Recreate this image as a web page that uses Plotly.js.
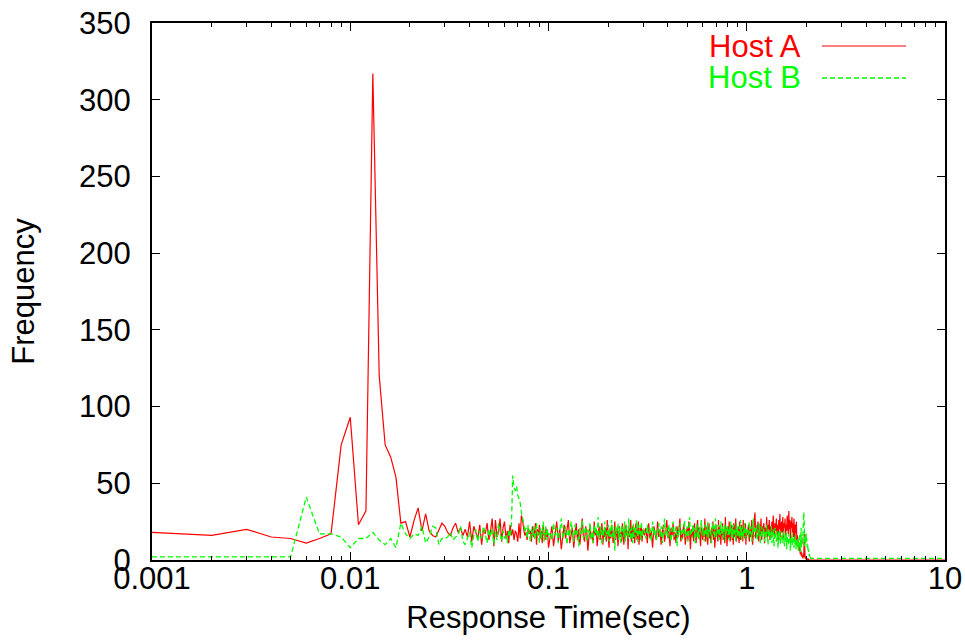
<!DOCTYPE html>
<html><head><meta charset="utf-8">
<script src="https://cdn.plot.ly/plotly-3.0.1.min.js"></script>
<style>html,body{margin:0;padding:0;background:#fff}#chart{width:965px;height:641px}</style>
</head><body><div id="chart"></div>
<script>
// ---- bin centres (milliseconds) ----
const binMs1 = [1,2,3,4,5,6,7,8,9,10,11,12,13,14,15,16,17,18,19,20,21,22,23,24,25,26,27,28,29,30,31,32,33,34,35,36,37,38,39,40,41,42,43,44,45,46,47,48,49,50,51,52,53,54,55,56,57,58,59,60,61,62,63,64,65,66,67,68,69,70,71,72,73,74,75,76,77,78,79,80,81,82,83,84,85,86,87,88,89,90,91,92,93,94,95,96,97,98,99,100];
const binMs2 = [102,104,106,108,110,112,114,116,118,120,122,124,126,128,130,132,134,136,138,140,142,144,146,148,150,152,154,156,158,160,162,164,166,168,170,172,174,176,178,180,182,184,186,188,190,192,194,196,198,200,202,204,206,208,210,212,214,216,218,220,222,224,226,228,230,232,234,236,238,240,242,244,246,248,250,252,254,256,258,260,262,264,266,268,270,272,274,276,278,280,282,284,286,288,290,292,294,296,298,300];
const binMs3 = [305,310,315,320,325,330,335,340,345,350,355,360,365,370,375,380,385,390,395,400,405,410,415,420,425,430,435,440,445,450,455,460,465,470,475,480,485,490,495,500,505,510,515,520,525,530,535,540,545,550,555,560,565,570,575,580,585,590,595,600,605,610,615,620,625,630,635,640,645,650,655,660,665,670,675,680,685,690,695,700,705,710,715,720,725,730,735,740,745,750,755,760,765,770,775,780,785,790,795,800,805,810,815,820,825,830,835,840,845,850,855,860,865,870,875,880,885,890,895,900,905,910,915,920,925,930,935,940,945,950,955,960,965,970,975,980,985,990,995,1000];
const binMs4 = [1010,1020,1030,1040,1050,1060,1070,1080,1090,1100,1110,1120,1130,1140,1150,1160,1170,1180,1190,1200,1210,1220,1230,1240,1250,1260,1270,1280,1290,1300,1310,1320,1330,1340,1350,1360,1370,1380,1390,1400,1410,1420,1430,1440,1450,1460,1470,1480,1490,1500,1510,1520,1530,1540,1550,1560,1570,1580,1590,1600,1610,1620,1630,1640,1650,1660,1670,1680,1690,1700,1710,1720,1730,1740,1750,1760,1770,1780,1790,1800,1810,1820,1830,1840,1850,1860,1870,1880,1890,1900,1910,1920,1930,1940,1950,1960,1970,1980,1990,2000,2010,2020,2030,2040,2050,2060,2070,2080,2090,2100];
const binMs5 = [2150,2200,2300,2500,3000,4000,5000,6000,7000,8000,9000,10000];

// ---- Host A frequencies ----
const hostA1 = [18,16,20,15,14,11,14,17,75,93, 23,32,317,120,75,67,54,24,25,15, 26,34,19,30,19,16,15,20,24,22, 18,16,21,24,18,21,16,20,15,25, 12,22,18,14,23,10,20,17,24,13, 19,27,9,26,15,18,27,12,21,25, 14,19,11,23,16,20,13,19,17,12, 24,14,29,26,20,16,18,13,21,17, 19,12,22,15,18,24,10,20,16,23, 14,19,11,22,17,13,21,15,18,8];
const hostA2 = [15,22,9,18,25,12,20,7,17,23, 14,19,26,11,16,21,8,18,24,13, 20,10,17,27,15,12,22,18,6,19, 23,14,17,11,25,16,20,9,18,22, 13,17,24,10,19,15,21,12,26,16, 8,20,14,23,18,11,17,25,13,19, 21,9,16,22,15,18,12,24,17,10, 20,14,23,16,19,7,21,15,18,26, 12,17,22,14,20,11,18,24,16,13, 19,25,10,17,21,15,23,12,18,20];
const hostA3 = [16,21,11,24,14,19,8,22,17,13, 25,15,20,10,18,23,12,17,26,14, 19,9,21,16,24,13,18,11,22,15, 20,27,12,17,14,23,19,10,16,21, 13,25,18,7,20,15,22,12,24,17, 11,19,26,14,21,16,9,23,18,13, 20,15,27,12,17,22,10,19,24,14, 18,11,21,16,25,13,20,8,17,23, 15,19,12,26,18,14,22,10,20,16, 24,13,19,17,11,28,15,21,9,18, 22,14,25,16,12,20,17,23,13,19, 10,24,18,15,21,27,12,17,20,14, 22,16,11,25,19,13,18,23,15,20, 12,26,17,21,14,19,24,10,18,16];
const hostA4 = [17,23,12,20,15,26,10,19,22,31, 14,21,18,25,12,20,16,27,13,22, 19,24,11,21,17,28,15,23,20,26, 13,22,18,25,16,29,21,14,24,19, 27,17,23,12,26,20,30,15,22,25, 18,28,14,24,21,27,16,23,19,29, 22,17,32,20,26,14,25,21,28,18, 24,15,27,20,12,23,18,25,10,16, 14,8,12,6,10,4,7,3,5,2, 3,1,4,2,17,3,1,2,1,0, 1,0,0,1,0,0,0,0,0,0];
const hostA5 = [0,0,0,0,0,0,0,0,0,0,0,0];

// ---- Host B frequencies ----
const hostB1 = [2,2,2,2,2,41,17,17,15,8, 14,14,18,13,10,14,8,24,17,14, 17,16,22,11,15,22,21,10,14,14, 15,18,13,15,16,22,12,10,14,18, 8,16,20,12,19,14,22,17,11,20, 15,21,10,18,13,24,16,12,19,14, 17,11,20,15,22,55,47,45,48,42, 40,37,31,28,24,18,21,14,23,17, 12,20,16,22,13,19,24,15,18,11, 21,14,19,25,12,17,22,13,20,16];
const hostB2 = [18,13,24,16,21,11,19,27,14,17, 22,10,20,15,25,18,12,23,16,19, 9,21,17,26,14,18,22,12,20,16, 24,13,19,11,23,17,21,15,28,14, 18,22,10,20,16,25,13,19,17,23, 12,21,15,26,18,14,20,6,22,17, 19,24,13,21,16,11,23,18,20,15, 25,12,19,22,17,14,27,16,20,13, 21,18,11,24,15,22,19,14,26,17, 12,20,23,16,19,13,25,18,15,21];
const hostB3 = [19,14,23,17,21,12,25,16,20,13, 18,24,15,22,11,19,27,16,21,14, 23,17,12,20,25,15,18,22,9,19, 16,24,20,13,21,18,26,15,17,22, 12,20,28,16,19,14,23,18,21,11, 17,24,15,20,13,22,19,26,16,18, 21,12,23,17,20,15,25,14,19,22, 16,18,11,24,20,17,22,14,27,19, 15,21,18,23,13,20,16,25,19,17, 22,14,20,18,24,12,21,17,19,23, 16,20,13,22,18,25,15,19,21,14, 23,17,20,16,19,12,24,18,21,15, 20,17,22,14,19,26,16,21,13,18, 22,15,20,17,24,14,19,21,16,18];
const hostB4 = [20,14,25,17,22,12,19,27,15,21, 18,23,13,20,16,24,11,19,22,15, 17,21,12,19,14,23,16,10,20,15, 18,13,22,11,17,20,9,16,21,14, 12,19,15,8,18,13,20,10,16,14, 17,11,15,19,9,14,12,18,7,16, 13,10,17,12,15,6,14,11,18,9, 15,12,8,14,10,16,7,13,11,9, 14,6,12,9,17,5,11,21,8,15, 10,19,13,31,24,9,16,11,18,12, 14,8,10,5,7,3,4,2,3,1];
const hostB5 = [1,1,1,1,1,1,1,1,1,1,1,1];

// ---- axis ticks ----
const xTickVals = [0.001, 0.01, 0.1, 1, 10];
const xTickText = ['0.001', '0.01', '0.1', '1', '10'];
const xMinorVals = [0.002,0.003,0.004,0.005,0.006,0.007,0.008,0.009,0.02,0.03,0.04,0.05,0.06,0.07,0.08,0.09,0.2,0.3,0.4,0.5,0.6,0.7,0.8,0.9,2,3,4,5,6,7,8,9];
const yTickVals = [0, 50, 100, 150, 200, 250, 300, 350];
const seriesNames = ['Host A', 'Host B'];

const binSec = binMs1.concat(binMs2, binMs3, binMs4, binMs5).map(v => v / 1000);
const freqA = hostA1.concat(hostA2, hostA3, hostA4, hostA5);
const freqB = hostB1.concat(hostB2, hostB3, hostB4, hostB5);

const traces = [
  {x: binSec, y: freqA, name: seriesNames[0], type: 'scatter', mode: 'lines',
   line: {color: '#ff0000', width: 1.2}},
  {x: binSec, y: freqB, name: seriesNames[1], type: 'scatter', mode: 'lines',
   line: {color: '#00ff00', width: 1.3, dash: '5px,3px'}}
];

const L = 152, T = 23, W = 793, H = 537;
const px = x => (x - L) / W;
const py = y => (T + H - y) / H;

const layout = {
  width: 965, height: 641,
  margin: {l: L, r: 965 - L - W, t: T, b: 641 - T - H, pad: 0},
  paper_bgcolor: '#ffffff', plot_bgcolor: '#ffffff',
  showlegend: false, hovermode: false,
  font: {family: '"Liberation Sans", Arial, sans-serif', size: 31, color: '#000'},
  xaxis: {
    type: 'log', range: [-3, 1],
    tickmode: 'array', tickvals: xTickVals, ticktext: xTickText,
    ticks: 'inside', ticklen: 8, tickwidth: 1, tickcolor: '#000',
    minor: {tickmode: 'array', tickvals: xMinorVals, ticks: 'inside', ticklen: 4, tickwidth: 1, tickcolor: '#000', showgrid: false},
    showline: true, linecolor: '#000', linewidth: 2, mirror: 'allticks',
    showgrid: false, zeroline: false, ticklabelstandoff: -10,
    tickfont: {size: 31},
    title: {text: 'Response Time(sec)', standoff: 11, font: {size: 31}}
  },
  yaxis: {
    range: [0, 350], tickmode: 'array', tickvals: yTickVals,
    ticks: 'inside', ticklen: 8, tickwidth: 1, tickcolor: '#000',
    showline: true, linecolor: '#000', linewidth: 2, mirror: 'allticks',
    showgrid: false, zeroline: false, ticklabelstandoff: 13,
    tickfont: {size: 31},
    title: {text: 'Frequency', standoff: 35, font: {size: 31}}
  },
  annotations: [
    {text: seriesNames[0], xref: 'paper', yref: 'paper', x: px(802), y: py(46), xanchor: 'right', yanchor: 'middle', showarrow: false, borderpad: 0, font: {color: '#ff0000', size: 31}},
    {text: seriesNames[1], xref: 'paper', yref: 'paper', x: px(802), y: py(78), xanchor: 'right', yanchor: 'middle', showarrow: false, borderpad: 0, font: {color: '#00ff00', size: 31}}
  ],
  shapes: [
    {type: 'line', xref: 'paper', yref: 'paper', x0: px(822), x1: px(906), y0: py(46), y1: py(46), line: {color: '#ff0000', width: 1.2}},
    {type: 'line', xref: 'paper', yref: 'paper', x0: px(822), x1: px(906), y0: py(78), y1: py(78), line: {color: '#00ff00', width: 1.3, dash: '5px,3px'}}
  ]
};

Plotly.newPlot('chart', traces, layout, {staticPlot: true, displayModeBar: false});
</script></body></html>
